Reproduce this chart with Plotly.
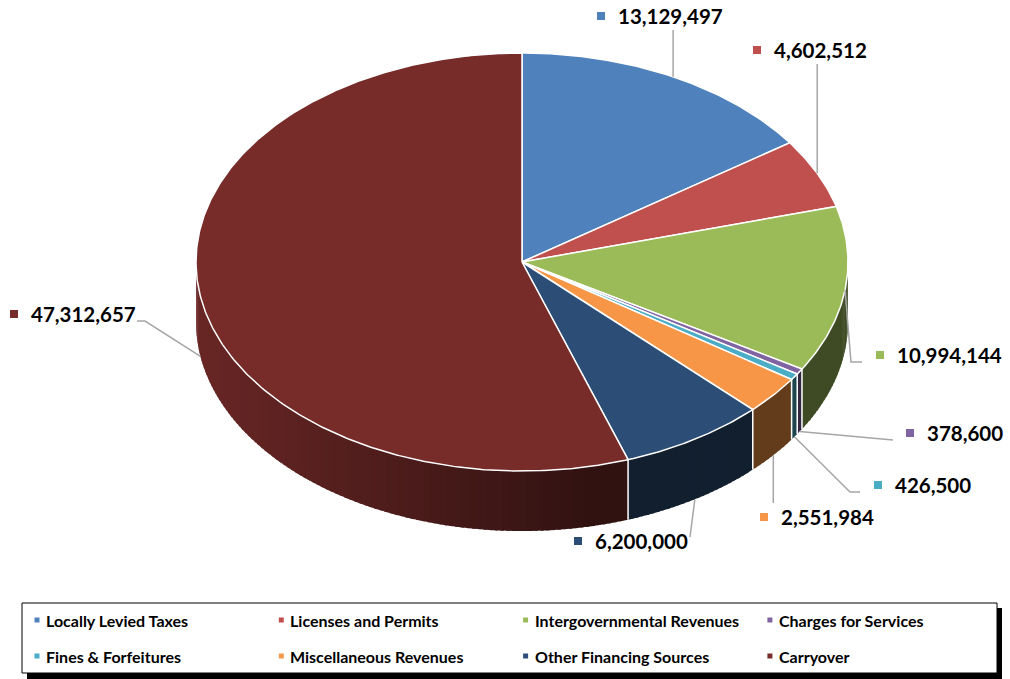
import math
import plotly.graph_objects as go

# ---- data ----
categories = [
    "Locally Levied Taxes", "Licenses and Permits", "Intergovernmental Revenues",
    "Charges for Services", "Fines & Forfeitures", "Miscellaneous Revenues",
    "Other Financing Sources", "Carryover",
]
amounts = [13129497, 4602512, 10994144, 378600, 426500, 2551984, 6200000, 47312657]
colors = ["#4F81BD", "#C0504D", "#9BBB59", "#8064A2", "#4BACC6", "#F79646", "#2C4D75", "#772C2A"]

# ---- pie geometry (pixel space) ----
W, H = 1010, 679
CX, CY = 522, 262
RX, RY = 326, 209
DEPTH = 60

# label placement: marker centre and leader-line elbow points
label_pos = [
    dict(mx=601, my=16, path=[("v", 30)]),
    dict(mx=757, my=50, path=[("v", 64)]),
    dict(mx=880, my=355, path=[(851, 362), (862, 362)], top=True),
    dict(mx=910, my=433, path=[(887, 440), (893, 440)]),
    dict(mx=878, my=485, path=[(850, 492), (860, 492)]),
    dict(mx=764, my=517, path=[("v", 503)]),
    dict(mx=578, my=541, path=[(690, 537)]),
    dict(mx=14, my=314, path=[(145, 321), (137, 321)]),
]


def pt(theta, dy=0.0):
    r = math.radians(theta)
    return CX + RX * math.sin(r), CY - RY * math.cos(r) + dy


def shade(hex_color, f):
    h = hex_color.lstrip("#")
    rgb = [int(h[i:i + 2], 16) for i in (0, 2, 4)]
    return "rgb({},{},{})".format(*[max(0, min(255, round(c * f))) for c in rgb])


def side_factor(x):
    t = (x - 197) / (600 - 197)
    t = max(0.0, min(1.0, t))
    return 0.88 - 0.48 * t


def arc(a, b, dy=0.0, step=0.5):
    n = max(2, int(abs(b - a) / step) + 1)
    return [pt(a + (b - a) * i / (n - 1), dy) for i in range(n)]


total = sum(amounts)
bounds = [0.0]
for v in amounts:
    bounds.append(bounds[-1] + 360.0 * v / total)

fig = go.Figure()

# ---- side walls (front half only), shaded left-to-right ----
# each strip reaches slightly under the next one so no seams show
for i, c in enumerate(colors):
    a, b = max(bounds[i], 90.0), min(bounds[i + 1], 270.0)
    if b <= a:
        continue
    n = max(1, int((b - a) / 1.0))
    for k in range(n):
        s0 = a + (b - a) * k / n
        s1 = a + (b - a) * (k + 1) / n
        s1e = min(b, s1 + 0.6)
        top = arc(s0, s1e, step=0.25)
        bot = arc(s1e, s0, DEPTH, step=0.25)
        poly = top + bot + [top[0]]
        xm = pt((s0 + s1) / 2)[0]
        col = shade(c, side_factor(xm))
        fig.add_trace(go.Scatter(
            x=[p[0] for p in poly], y=[p[1] for p in poly], mode="lines",
            fill="toself", fillcolor=col, line=dict(width=0),
            hoverinfo="skip", showlegend=False))

# white seams between wall segments
for th in bounds[1:-1]:
    if 90 < th < 270:
        p0, p1 = pt(th), pt(th, DEPTH)
        fig.add_trace(go.Scatter(x=[p0[0], p1[0]], y=[p0[1], p1[1]], mode="lines",
                                 line=dict(color="white", width=1.5),
                                 hoverinfo="skip", showlegend=False))

# ---- top faces ----
for i, c in enumerate(colors):
    poly = [(CX, CY)] + arc(bounds[i], bounds[i + 1]) + [(CX, CY)]
    fig.add_trace(go.Scatter(
        x=[p[0] for p in poly], y=[p[1] for p in poly], mode="lines",
        fill="toself", fillcolor=c, line=dict(color="white", width=1.5),
        name=categories[i], hoverinfo="skip", showlegend=False))

# ---- leader lines and value labels ----
shapes = []
annotations = []
for i, (v, c, lp) in enumerate(zip(amounts, colors, label_pos)):
    mid = (bounds[i] + bounds[i + 1]) / 2
    lower = math.cos(math.radians(mid)) < 0 and not lp.get("top", False)
    sx, sy = pt(mid, DEPTH if lower else 0)
    xs, ys = [sx], [sy]
    for p in lp["path"]:
        if p[0] == "v":
            xs.append(sx)
            ys.append(p[1])
        else:
            xs.append(p[0])
            ys.append(p[1])
    fig.add_trace(go.Scatter(x=xs, y=ys, mode="lines",
                             line=dict(color="#A6A6A6", width=1.5),
                             hoverinfo="skip", showlegend=False))
    shapes.append(dict(type="rect", xref="x", yref="y",
                       x0=lp["mx"] - 4, x1=lp["mx"] + 4, y0=lp["my"] - 4, y1=lp["my"] + 4,
                       fillcolor=c, line=dict(width=0)))
    annotations.append(dict(x=lp["mx"] + 15, y=lp["my"], xref="x", yref="y",
                            text=f"<b>{v:,}</b>", showarrow=False,
                            xanchor="left", yanchor="middle",
                            font=dict(family="Lato", size=20.5, color="black")))

# ---- legend box ----
LX0, LY0, LX1, LY1 = 22, 603, 997, 673
shapes.append(dict(type="rect", xref="x", yref="y", x0=LX0 + 5, y0=LY0 + 5, x1=LX1 + 5, y1=LY1 + 6,
                   fillcolor="black", line=dict(width=0), layer="above"))
shapes.append(dict(type="rect", xref="x", yref="y", x0=LX0, y0=LY0, x1=LX1, y1=LY1,
                   fillcolor="white", line=dict(color="black", width=1), layer="above"))
col_x = 37
col_w = 244.3
row_y = [620, 656]
for i, (name, c) in enumerate(zip(categories, colors)):
    mx = col_x + (i % 4) * col_w
    my = row_y[i // 4]
    shapes.append(dict(type="rect", xref="x", yref="y",
                       x0=mx - 2.5, x1=mx + 2.5, y0=my - 2.5, y1=my + 2.5,
                       fillcolor=c, line=dict(width=0), layer="above"))
    annotations.append(dict(x=mx + 7, y=my, xref="x", yref="y",
                            text=f"<b>{name}</b>", showarrow=False,
                            xanchor="left", yanchor="middle",
                            font=dict(family="Lato", size=16, color="black")))

fig.update_layout(
    width=W, height=H,
    margin=dict(l=0, r=0, t=0, b=0),
    paper_bgcolor="white", plot_bgcolor="white",
    xaxis=dict(range=[0, W], visible=False, fixedrange=True),
    yaxis=dict(range=[H, 0], visible=False, fixedrange=True),
    shapes=shapes, annotations=annotations,
    showlegend=False,
)

fig.write_html("out.html")
